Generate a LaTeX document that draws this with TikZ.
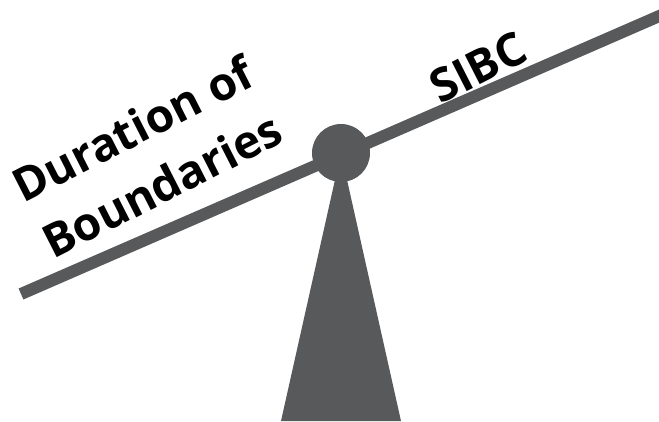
\documentclass[tikz,border=0pt]{standalone}
\usepackage{fontspec}
\newfontfamily\labelfont{Open Sans}
\usepackage{tikz}
\usetikzlibrary{positioning}
\definecolor{beamgray}{HTML}{58595B}

\begin{document}
\begin{tikzpicture}[x=1pt,y=1pt,
  label text/.style={font=\labelfont\bfseries\fontsize{46}{55}\selectfont,rotate=27,inner sep=0pt}]
  \useasboundingbox (0,0) rectangle (659,421);
  \clip (0,0) rectangle (659,421);
  % Seesaw
  \coordinate (beam left)  at (21,127);
  \coordinate (beam right) at (680,414);
  \coordinate (foot left)  at (281,0);
  \coordinate (foot right) at (401,0);
  \node[circle,fill=beamgray,minimum size=58pt,inner sep=0pt] (pivot) at (341,268) {};
  \fill[beamgray] (foot left) -- (pivot.center) -- (foot right) -- cycle;
  \draw[beamgray,line width=12pt] (beam left) -- (beam right);
  % Labels
  \node[label text,anchor=base west] (left top)    at (23,217) {Duration of};
  \node[label text,anchor=base west] (left bottom) at (53,161) {Boundaries};
  \node[label text] (right load) at (478,354) {SIBC};
\end{tikzpicture}
\end{document}
